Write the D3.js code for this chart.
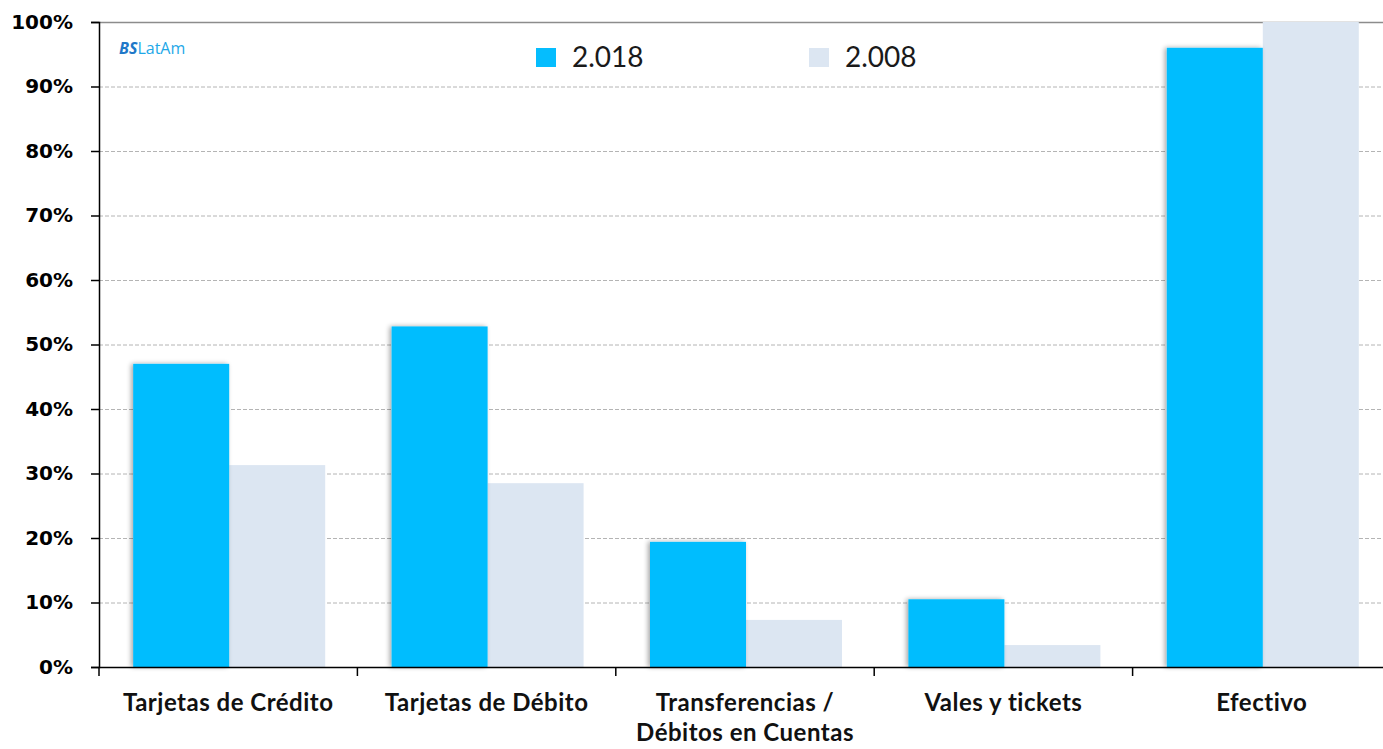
<!DOCTYPE html>
<html>
<head>
<meta charset="utf-8">
<script src="https://cdn.jsdelivr.net/npm/d3@7"></script>
<style>
  body { margin: 0; background: #fff; }
  svg { display: block; }
</style>
</head>
<body>
<svg id="chart"></svg>
<script>
// data
var categories = ["Tarjetas de Crédito", "Tarjetas de Débito", "Transferencias /\nDébitos en Cuentas", "Vales y tickets", "Efectivo"];
var series = ["2.018", "2.008"];
var values2018 = [0.47, 0.528, 0.194, 0.105, 0.96];
var values2008 = [0.313, 0.285, 0.073, 0.034, 1.0];
var yTicks = [0, 0.1, 0.2, 0.3, 0.4, 0.5, 0.6, 0.7, 0.8, 0.9, 1.0];
var COLOURS = ["#05BDFE", "#DCE6F2"];

var WIDTH = 1383, HEIGHT = 749;
var LEFT = 99, TOP = 22, RIGHT_END = 1391, BOTTOM_Y = 667;

var svg = d3.select("#chart").attr("width", WIDTH).attr("height", HEIGHT);

// shadow behind the blue bars
var defs = svg.append("defs");
var f = defs.append("filter").attr("id", "shadow").attr("x", "-20%").attr("width", "140%");
f.append("feGaussianBlur").attr("in", "SourceAlpha").attr("stdDeviation", 2.5);
f.append("feOffset").attr("dx", -2).attr("dy", 0).attr("result", "b");
f.append("feComponentTransfer").append("feFuncA").attr("type", "linear").attr("slope", 0.35);
var m = f.append("feMerge");
m.append("feMergeNode");
m.append("feMergeNode").attr("in", "SourceGraphic");

var x = d3.scaleBand().domain(categories).range([LEFT, RIGHT_END]).paddingInner(0).paddingOuter(0);
var y = d3.scaleLinear().domain([0, 1]).range([BOTTOM_Y, TOP]);

var barW = 96;
var groupOffset = (x.bandwidth() - 2 * barW) / 2 + 1;

// gridlines
svg.append("g")
    .selectAll("line")
    .data(yTicks.filter(function (d) { return d > 0 && d < 1; }))
    .enter().append("line")
    .attr("x1", LEFT).attr("x2", WIDTH)
    .attr("y1", function (d) { return y(d) + 0.5; })
    .attr("y2", function (d) { return y(d) + 0.5; })
    .attr("stroke", "#b4b4b4")
    .attr("stroke-dasharray", "4,2")
    .attr("stroke-width", 1);

// top border
svg.append("line")
    .attr("x1", LEFT).attr("x2", WIDTH)
    .attr("y1", y(1) + 0.5).attr("y2", y(1) + 0.5)
    .attr("stroke", "#8c8c8c").attr("stroke-width", 1.5);

// bars
var data = categories.map(function (c, i) { return { cat: c, v: [values2018[i], values2008[i]] }; });

[1, 0].forEach(function (s) {
    svg.append("g")
        .attr("fill", COLOURS[s])
        .attr("filter", s === 0 ? "url(#shadow)" : null)
        .selectAll("rect")
        .data(data)
        .enter().append("rect")
        .attr("x", function (d) { return x(d.cat) + groupOffset + s * barW; })
        .attr("y", function (d) { return y(d.v[s]); })
        .attr("width", barW)
        .attr("height", function (d) { return y(0) - y(d.v[s]); });
});

// y axis
var yAxis = svg.append("g")
    .attr("transform", "translate(" + LEFT + ",0)")
    .call(d3.axisLeft(y).tickValues(yTicks).tickFormat(d3.format(".0%")).tickSize(8).tickPadding(18));
yAxis.select(".domain").attr("stroke", "#000").attr("stroke-width", 1.5);
yAxis.selectAll(".tick line").attr("stroke", "#000").attr("stroke-width", 1.5);
yAxis.selectAll("text")
    .attr("fill", "#000")
    .style("font-family", "'DejaVu Sans', sans-serif")
    .style("font-weight", "bold")
    .style("font-size", "20px");

// x axis
var xAxis = svg.append("g")
    .attr("transform", "translate(0," + BOTTOM_Y + ")")
    .call(d3.axisBottom(x).tickSize(0).tickFormat(""));
xAxis.select(".domain").attr("stroke", "#000").attr("stroke-width", 1.5);

// category separators
svg.append("g")
    .selectAll("line")
    .data(categories)
    .enter().append("line")
    .attr("x1", function (d) { return x(d); })
    .attr("x2", function (d) { return x(d); })
    .attr("y1", BOTTOM_Y).attr("y2", BOTTOM_Y + 9)
    .attr("stroke", "#000").attr("stroke-width", 1.5);

// category labels
var labels = svg.append("g")
    .selectAll("text")
    .data(categories)
    .enter().append("text")
    .attr("text-anchor", "middle")
    .attr("x", function (d) { return x(d) + x.bandwidth() / 2; })
    .attr("y", 711)
    .style("font-family", "Lato, sans-serif")
    .style("font-weight", "bold")
    .style("font-size", "24px")
    .style("letter-spacing", "0.5px")
    .attr("fill", "#111");
labels.each(function (d) {
    var lines = d.split("\n");
    var t = d3.select(this);
    lines.forEach(function (l, i) {
        t.append("tspan").attr("x", t.attr("x")).attr("dy", i === 0 ? 0 : 30).text(l);
    });
});

// legend
var legend = svg.append("g")
    .selectAll("g")
    .data(series)
    .enter().append("g")
    .attr("transform", function (d, i) { return "translate(" + (536 + i * 273) + ",48)"; });
legend.append("rect").attr("width", 20).attr("height", 19).attr("fill", function (d, i) { return COLOURS[i]; });
legend.append("text")
    .attr("x", 36).attr("y", 19)
    .style("font-family", "Lato, sans-serif")
    .style("font-size", "28px")
    .attr("fill", "#1a1a1a")
    .text(function (d) { return d; });

// logo
var logo = svg.append("text")
    .attr("x", 119).attr("y", 54)
    .style("font-family", "'Open Sans', sans-serif")
    .style("font-size", "16px");
logo.append("tspan").attr("fill", "#1f78c8").style("font-weight", "bold").style("font-style", "italic").text("BS");
logo.append("tspan").attr("fill", "#1ea8e8").text("LatAm");
</script>
</body>
</html>
